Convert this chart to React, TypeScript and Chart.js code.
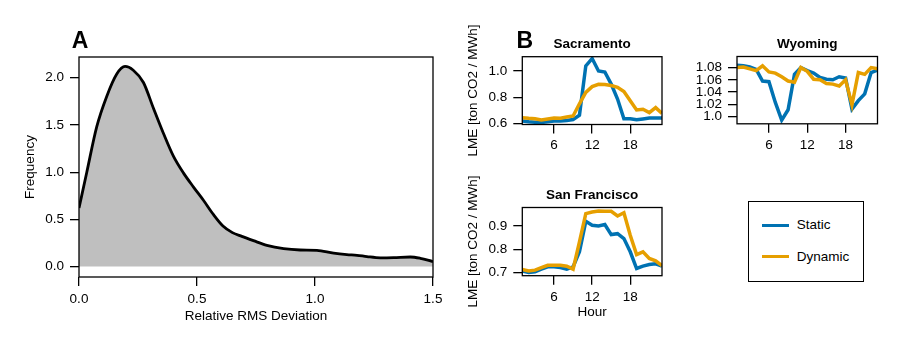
import React, { useEffect, useRef } from "react";
import { Chart, registerables } from "chart.js";

Chart.register(...registerables);

const FONT = "'Liberation Sans', Arial, Helvetica, sans-serif";
const BLACK = "#000";

// ---------- Panel A: density of relative RMS deviation ----------
const densityX = [0, 0.033, 0.075, 0.117, 0.16, 0.195, 0.23, 0.273, 0.315, 0.358, 0.4, 0.443, 0.486, 0.528, 0.57, 0.61, 0.65, 0.69, 0.739, 0.796, 0.867, 0.937, 1.008, 1.079, 1.135, 1.178, 1.22, 1.277, 1.333, 1.404, 1.446, 1.5];
const densityY = [0.62, 1.0, 1.48, 1.8, 2.04, 2.12, 2.08, 1.95, 1.68, 1.41, 1.17, 0.99, 0.84, 0.7, 0.55, 0.43, 0.36, 0.32, 0.275, 0.225, 0.19, 0.176, 0.172, 0.142, 0.127, 0.12, 0.106, 0.093, 0.095, 0.102, 0.088, 0.053];
const aXTicks = [0, 0.5, 1.0, 1.5];
const aYTicks = [0, 0.5, 1.0, 1.5, 2.0];

// ---------- Panel B: hourly LME ----------
const hours = [1, 2, 3, 4, 5, 6, 7, 8, 9, 10, 11, 12, 13, 14, 15, 16, 17, 18, 19, 20, 21, 22, 23];
const hourTicks = [6, 12, 18];
const seriesNames = ["Static", "Dynamic"];
const seriesColors = ["#0072B2", "#E69F00"];

const sacStatic = [0.618, 0.613, 0.61, 0.608, 0.613, 0.618, 0.618, 0.623, 0.63, 0.662, 1.039, 1.095, 1.0, 0.992, 0.9, 0.786, 0.636, 0.636, 0.628, 0.634, 0.641, 0.641, 0.641];
const sacDynamic = [0.644, 0.639, 0.636, 0.626, 0.634, 0.641, 0.639, 0.649, 0.657, 0.75, 0.837, 0.881, 0.899, 0.897, 0.889, 0.876, 0.843, 0.773, 0.703, 0.708, 0.683, 0.721, 0.677];
const sacYTicks = [0.6, 0.8, 1.0];

const wyoStatic = [1.084, 1.083, 1.081, 1.077, 1.058, 1.057, 1.023, 0.994, 1.011, 1.069, 1.08, 1.075, 1.071, 1.064, 1.061, 1.06, 1.065, 1.063, 1.012, 1.026, 1.037, 1.072, 1.076];
const wyoDynamic = [1.08, 1.081, 1.078, 1.075, 1.083, 1.073, 1.071, 1.065, 1.058, 1.056, 1.08, 1.074, 1.061, 1.06, 1.054, 1.053, 1.05, 1.06, 1.019, 1.072, 1.069, 1.08, 1.078];
const wyoYTicks = [1.0, 1.02, 1.04, 1.06, 1.08];

const sfStatic = [0.706, 0.7, 0.703, 0.714, 0.724, 0.724, 0.721, 0.714, 0.724, 0.789, 0.92, 0.903, 0.9, 0.906, 0.863, 0.867, 0.846, 0.789, 0.717, 0.727, 0.734, 0.737, 0.727];
const sfDynamic = [0.713, 0.706, 0.71, 0.721, 0.731, 0.731, 0.731, 0.727, 0.714, 0.831, 0.953, 0.96, 0.964, 0.963, 0.963, 0.943, 0.957, 0.86, 0.777, 0.789, 0.76, 0.75, 0.729];
const sfYTicks = [0.7, 0.8, 0.9];

const LME_LABEL = "LME [ton CO2 / MWh]";

// ---------- helpers ----------
const TICK_FONT = { family: FONT, size: 13.5 };

const decorPlugin = {
  id: "decor",
  afterDraw(chart: any, _args: any, opts: any) {
    const { ctx, chartArea: a } = chart;
    ctx.save();
    ctx.strokeStyle = BLACK;
    ctx.lineWidth = 1.3;
    ctx.strokeRect(a.left, a.top, a.right - a.left, a.bottom - a.top);
    ctx.fillStyle = BLACK;
    ctx.textBaseline = "alphabetic";
    if (opts && opts.title) {
      ctx.font = `bold 13.5px ${FONT}`;
      ctx.textAlign = "center";
      ctx.fillText(opts.title, (a.left + a.right) / 2, a.top - 8.3);
    }
    if (opts && opts.letter) {
      ctx.font = `bold 23px ${FONT}`;
      ctx.textAlign = "left";
      ctx.fillText(opts.letter.text, opts.letter.x, opts.letter.y);
    }
    ctx.restore();
  },
};

function axisCommon(o: any) {
  return {
    type: "linear",
    min: o.min,
    max: o.max,
    afterBuildTicks: (s: any) => {
      s.ticks = o.ticks.map((v: number) => ({ value: v }));
    },
    ticks: {
      callback: (v: any) => o.fmt(Number(v)),
      font: TICK_FONT,
      color: BLACK,
      padding: o.pad,
      maxRotation: 0,
      autoSkip: false,
    },
    grid: {
      display: true,
      drawOnChartArea: false,
      drawTicks: true,
      tickLength: 9,
      lineWidth: 1.3,
      color: BLACK,
    },
    border: { display: false },
  };
}

function xAxis(o: any) {
  return {
    ...axisCommon(o),
    position: "bottom",
    afterFit: (s: any) => {
      s.height = o.height;
    },
    title: o.title
      ? { display: true, text: o.title, font: TICK_FONT, color: BLACK, padding: { top: 0, bottom: o.titlePad } }
      : { display: false },
  };
}

function yAxis(o: any) {
  return {
    ...axisCommon(o),
    position: "left",
    afterFit: (s: any) => {
      s.width = o.width;
    },
    title: o.title
      ? { display: true, text: o.title, font: TICK_FONT, color: BLACK, padding: { top: o.titlePad, bottom: 0 } }
      : { display: false },
  };
}

function lineSets(staticVals: number[], dynamicVals: number[]) {
  const vals = [staticVals, dynamicVals];
  return vals.map((arr, k) => ({
    label: seriesNames[k],
    data: hours.map((h, i) => ({ x: h, y: arr[i] })),
    borderColor: seriesColors[k],
    backgroundColor: seriesColors[k],
    borderWidth: 3.5,
    pointRadius: 0,
    tension: 0,
    fill: false,
    order: k === 1 ? 0 : 1,
  }));
}

const fmt1 = (v: number) => v.toFixed(1);
const fmtWyo = (v: number) => (Math.abs(v - 1) < 1e-9 ? "1.0" : v.toFixed(2));

function baseOptions(padding: any, scales: any, decor: any) {
  return {
    responsive: false,
    animation: false,
    devicePixelRatio: 1,
    layout: { padding },
    scales,
    plugins: {
      legend: { display: false },
      tooltip: { enabled: false },
      decor,
    },
  };
}

function configA() {
  return {
    type: "line",
    data: {
      datasets: [
        {
          data: densityX.map((x, i) => ({ x, y: densityY[i] })),
          borderColor: BLACK,
          borderWidth: 2.8,
          backgroundColor: "#bfbfbf",
          fill: "origin",
          pointRadius: 0,
          cubicInterpolationMode: "monotone",
        },
      ],
    },
    options: baseOptions(
      { left: 0, top: 57, right: 17, bottom: 0 },
      {
        x: xAxis({ min: 0, max: 1.5, ticks: aXTicks, fmt: fmt1, pad: 5, height: 70, title: "Relative RMS Deviation", titlePad: 22.2 }),
        y: yAxis({ min: -0.11, max: 2.22, ticks: aYTicks, fmt: fmt1, pad: 6, width: 79, title: "Frequency", titlePad: 21.9 }),
      },
      { letter: { text: "A", x: 71.7, y: 48.3 } }
    ),
    plugins: [decorPlugin],
  };
}

function configSac() {
  return {
    type: "line",
    data: { datasets: lineSets(sacStatic, sacDynamic) },
    options: baseOptions(
      { left: 0, top: 56.7, right: 18, bottom: 0 },
      {
        x: xAxis({ min: 1, max: 23, ticks: hourTicks, fmt: (v: number) => String(v), pad: 4, height: 45.5 }),
        y: yAxis({ min: 0.592, max: 1.109, ticks: sacYTicks, fmt: fmt1, pad: 6, width: 72.3, title: LME_LABEL, titlePad: 15.2 }),
      },
      { title: "Sacramento", letter: { text: "B", x: 66.6, y: 48.3 } }
    ),
    plugins: [decorPlugin],
  };
}

function configWyo() {
  return {
    type: "line",
    data: { datasets: lineSets(wyoStatic, wyoDynamic) },
    options: baseOptions(
      { left: 0, top: 56.5, right: 22.5, bottom: 0 },
      {
        x: xAxis({ min: 1, max: 23, ticks: hourTicks, fmt: (v: number) => String(v), pad: 4, height: 46.2 }),
        y: yAxis({ min: 0.988, max: 1.0982, ticks: wyoYTicks, fmt: fmtWyo, pad: 6, width: 57 }),
      },
      { title: "Wyoming" }
    ),
    plugins: [decorPlugin],
  };
}

function configSF() {
  return {
    type: "line",
    data: { datasets: lineSets(sfStatic, sfDynamic) },
    options: baseOptions(
      { left: 0, top: 37.5, right: 18, bottom: 0 },
      {
        x: xAxis({ min: 1, max: 23, ticks: hourTicks, fmt: (v: number) => String(v), pad: 4, height: 71.3, title: "Hour", titlePad: 26.6 }),
        y: yAxis({ min: 0.686, max: 0.9796, ticks: sfYTicks, fmt: fmt1, pad: 6, width: 72.3, title: LME_LABEL, titlePad: 15.2 }),
      },
      { title: "San Francisco" }
    ),
    plugins: [decorPlugin],
  };
}

function ChartCanvas(props: { make: () => any; left: number; top: number; width: number; height: number }) {
  const ref = useRef<HTMLCanvasElement>(null);
  useEffect(() => {
    const chart = new Chart(ref.current as HTMLCanvasElement, props.make());
    return () => chart.destroy();
  }, []);
  return (
    <canvas
      ref={ref}
      width={props.width}
      height={props.height}
      style={{ position: "absolute", left: props.left, top: props.top, width: props.width, height: props.height }}
    />
  );
}

function Legend() {
  const rows = seriesNames.map((name, k) => ({ name, color: seriesColors[k], cy: k === 0 ? 225.5 : 257 }));
  const boxLeft = 747.7;
  const boxTop = 200.7;
  return (
    <div
      style={{
        position: "absolute",
        left: boxLeft,
        top: boxTop,
        width: 116.6,
        height: 81.6,
        border: "1.3px solid #000",
        boxSizing: "border-box",
        fontFamily: FONT,
        fontSize: 13.5,
        color: "#000",
      }}
    >
      {rows.map((r) => (
        <React.Fragment key={r.name}>
          <div
            style={{
              position: "absolute",
              left: 762 - boxLeft - 1.3,
              top: r.cy - 1.5 - boxTop - 1.3,
              width: 27,
              height: 3,
              background: r.color,
            }}
          />
          <div
            style={{
              position: "absolute",
              left: 797 - boxLeft - 1.3,
              top: r.cy - 7.8 - boxTop - 1.3,
              lineHeight: "16px",
              whiteSpace: "nowrap",
            }}
          >
            {r.name}
          </div>
        </React.Fragment>
      ))}
    </div>
  );
}

export default function App() {
  return (
    <div style={{ position: "absolute", left: 0, top: 0, width: 900, height: 347, background: "#fff", overflow: "hidden" }}>
      <ChartCanvas make={configA} left={0} top={0} width={450} height={347} />
      <ChartCanvas make={configSac} left={450} top={0} width={230} height={170} />
      <ChartCanvas make={configWyo} left={680} top={0} width={220} height={170} />
      <ChartCanvas make={configSF} left={450} top={170} width={230} height={177} />
      <Legend />
    </div>
  );
}
